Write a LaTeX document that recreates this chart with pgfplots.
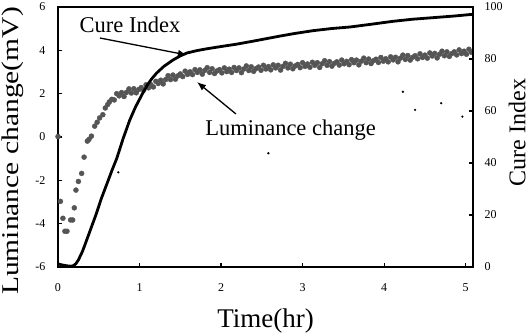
\documentclass[border=0pt]{standalone}
\usepackage{fontspec}
\setmainfont{Liberation Serif}
\usepackage{pgfplots}
\pgfplotsset{compat=1.18}
\usetikzlibrary{arrows.meta}
\definecolor{dotgray}{RGB}{85,85,85}
\begin{document}
\begin{tikzpicture}
\useasboundingbox (0pt,0pt) rectangle (532pt,332pt);
\begin{axis}[
  at={(58pt,65pt)}, anchor=south west,
  width=415pt, height=260pt, scale only axis,
  xmin=0, xmax=5.09, ymin=-6, ymax=6,
  xtick={0,1,2,3,4,5}, ytick={-6,-4,-2,0,2,4,6},
  xtick pos=bottom, ytick pos=left,
  tick align=inside, major tick length=4pt,
  axis line style={line width=1.4pt},
  every tick/.style={line width=1.2pt, black},
  /pgf/number format/assume math mode=true,
  tick label style={font=\fontsize{12}{12}\selectfont},
  xticklabel style={yshift=-13pt},
  yticklabel style={xshift=-9pt},
  xlabel={Time(hr)},
  xlabel style={at={(axis description cs:0.5,0)}, anchor=base, yshift=-60pt, font=\fontsize{27}{27}\selectfont},
  ylabel={\scalebox{1.23}[1]{Luminance change(mV)}},
  ylabel style={at={(axis description cs:-0.094,0.446)}, anchor=base, font=\fontsize{24}{24}\selectfont},
]
\addplot[only marks, mark=*, mark size=2.5pt, color=dotgray] coordinates {
(0,0.02) (0.03,-2.97) (0.06,-3.75) (0.085,-4.35) (0.11,-4.35) (0.155,-3.83) (0.18,-3.83) (0.2,-3.27)
(0.22,-2.45) (0.25,-2.05) (0.29,-1.68) (0.32,-0.93) (0.36,-0.19) (0.38,-0.11) (0.41,0.04) (0.45,0.5)
(0.48,0.68) (0.51,0.88) (0.55,1.03) (0.58,1.34) (0.61,1.5) (0.63,1.62)
(0.66,1.74) (0.69,1.71) (0.72,2.00) (0.75,1.90) (0.78,2.05) (0.81,1.87) (0.84,2.06) (0.87,2.22)
(0.90,2.03) (0.93,2.23) (0.96,2.04) (0.99,2.19) (1.02,2.28) (1.05,2.16) (1.08,2.41) (1.11,2.27)
(1.14,2.41) (1.17,2.31) (1.20,2.57) (1.23,2.47) (1.26,2.62) (1.29,2.45) (1.32,2.65) (1.35,2.83)
(1.38,2.65) (1.41,2.86) (1.44,2.67) (1.47,2.82) (1.50,2.91) (1.53,2.79) (1.56,3.04) (1.59,2.89)
(1.62,3.01) (1.65,2.88) (1.68,3.11) (1.71,2.98) (1.74,3.10) (1.77,2.90) (1.80,3.07) (1.83,3.20)
(1.86,2.98) (1.89,3.15) (1.92,2.93) (1.95,3.05) (1.98,3.11) (2.01,2.96) (2.04,3.19) (2.07,3.02)
(2.10,3.13) (2.13,2.98) (2.16,3.21) (2.19,3.07) (2.22,3.19) (2.25,2.97) (2.28,3.14) (2.31,3.28)
(2.34,3.07) (2.37,3.24) (2.40,3.03) (2.43,3.16) (2.46,3.23) (2.49,3.08) (2.52,3.31) (2.55,3.14)
(2.58,3.25) (2.61,3.10) (2.64,3.33) (2.67,3.19) (2.70,3.31) (2.73,3.09) (2.76,3.26) (2.79,3.40)
(2.82,3.19) (2.85,3.36) (2.88,3.15) (2.91,3.28) (2.94,3.35) (2.97,3.20) (3.00,3.43) (3.03,3.26)
(3.06,3.37) (3.09,3.22) (3.12,3.45) (3.15,3.31) (3.18,3.43) (3.21,3.21) (3.24,3.38) (3.27,3.52)
(3.30,3.31) (3.33,3.48) (3.36,3.27) (3.39,3.40) (3.42,3.47) (3.45,3.32) (3.48,3.55) (3.51,3.38)
(3.54,3.49) (3.57,3.34) (3.60,3.57) (3.63,3.43) (3.66,3.55) (3.69,3.33) (3.72,3.50) (3.75,3.64)
(3.78,3.43) (3.81,3.60) (3.84,3.39) (3.87,3.52) (3.90,3.59) (3.93,3.44) (3.96,3.67) (3.99,3.50)
(4.02,3.61) (4.05,3.47) (4.08,3.70) (4.11,3.56) (4.14,3.68) (4.17,3.47) (4.20,3.64) (4.23,3.78)
(4.26,3.58) (4.29,3.76) (4.32,3.55) (4.35,3.68) (4.38,3.75) (4.41,3.61) (4.44,3.84) (4.47,3.67)
(4.50,3.78) (4.53,3.64) (4.56,3.88) (4.59,3.74) (4.62,3.86) (4.65,3.65) (4.68,3.82) (4.71,3.96)
(4.74,3.75) (4.77,3.93) (4.80,3.72) (4.83,3.85) (4.86,3.93) (4.89,3.79) (4.92,4.02) (4.95,3.85)
(4.98,3.96) (5.01,3.82) (5.04,4.05) (5.07,3.91)
};
\addplot[only marks, mark=*, mark size=0.9pt, color=black] coordinates {
(0.74,-1.63) (2.58,-0.75) (4.23,2.09) (4.38,1.25) (4.70,1.56) (4.96,0.94)
};
\node[anchor=base, font=\fontsize{22.5}{24}\selectfont] at (axis cs:0.883,4.846) {Cure Index};
\node[anchor=base, font=\fontsize{22.5}{24}\selectfont] at (axis cs:2.852,0.092) {Luminance change};
\draw[line width=1.3pt, -{Latex[length=9pt,width=7pt]}] (axis cs:0.515,4.569) -- (axis cs:1.582,3.785);
\draw[line width=1.3pt, -{Latex[length=9pt,width=7pt]}] (axis cs:2.183,1.062) -- (axis cs:1.705,2.538);
\end{axis}
\begin{axis}[
  at={(58pt,65pt)}, anchor=south west,
  width=415pt, height=260pt, scale only axis,
  xmin=0, xmax=5.09, ymin=0, ymax=100,
  axis x line=none, axis y line*=right,
  ytick={0,20,40,60,80,100},
  tick align=inside, major tick length=4pt,
  axis line style={line width=1.4pt},
  every tick/.style={line width=1.2pt, black},
  /pgf/number format/assume math mode=true,
  tick label style={font=\fontsize{12}{12}\selectfont},
  yticklabel style={xshift=8pt},
  ylabel={Cure Index},
  ylabel style={at={(axis description cs:1.126,0.517)}, anchor=base, rotate=0, font=\fontsize{24}{24}\selectfont},
]
\addplot[black, line width=2.8pt, line join=round] coordinates {
(0,1.2) (0.05,0.8) (0.10,0.5) (0.15,0.3) (0.19,0.5) (0.22,1.3) (0.25,2.7) (0.30,6.0)
(0.35,10.2) (0.40,14.5) (0.47,20.5) (0.53,26.2) (0.60,32) (0.66,37) (0.72,41.7) (0.80,49.5)
(0.88,56.5) (0.95,61.5) (1.00,64.5) (1.05,67.5) (1.10,70.2) (1.15,72.4) (1.21,74.6) (1.30,77.2)
(1.41,79.6) (1.50,81.2) (1.58,82.3) (1.70,83.2) (1.82,83.9) (2.00,84.8) (2.19,85.7) (2.40,86.9)
(2.72,88.8) (2.90,89.8) (3.13,90.9) (3.35,91.7) (3.58,92.3) (3.85,93.4) (4.11,94.5) (4.35,95.3)
(4.60,95.9) (4.85,96.5) (5.09,97.2)
};
\end{axis}
\end{tikzpicture}
\end{document}
